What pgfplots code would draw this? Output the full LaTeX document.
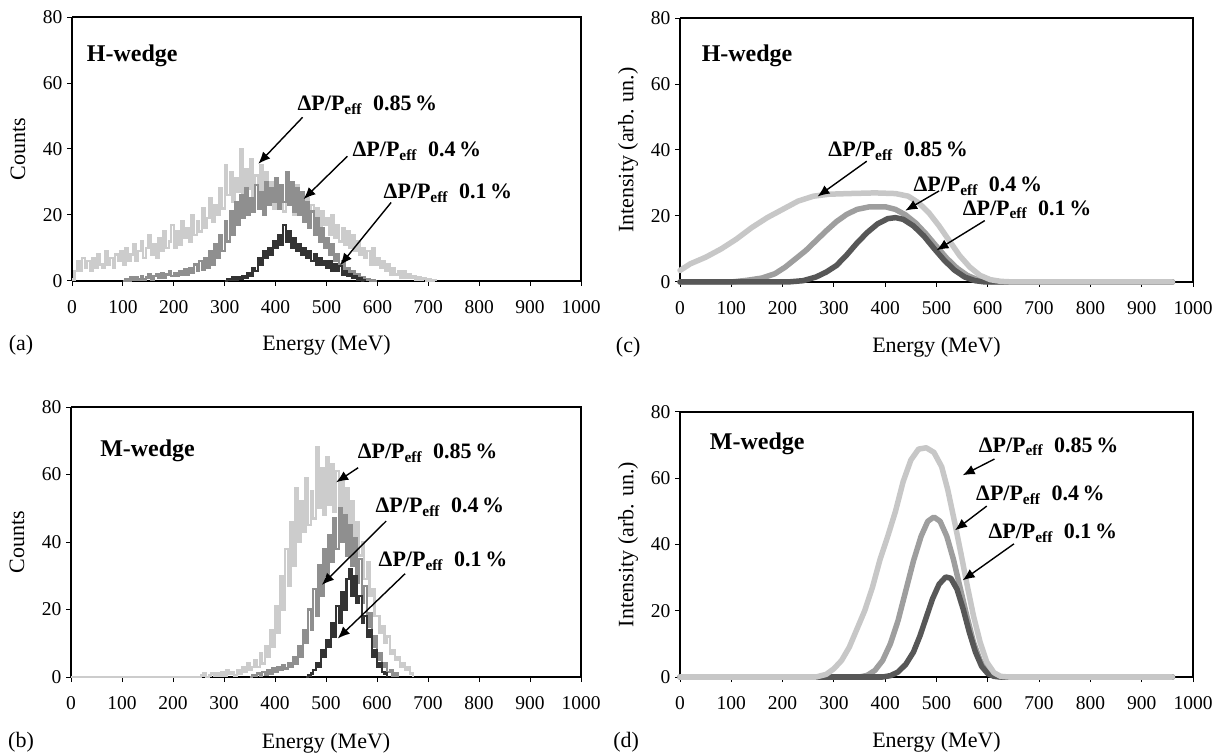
\documentclass[border=0pt]{standalone}
\usepackage{fontspec}
\setmainfont{Liberation Serif}
\usepackage{pgfplots}
\pgfplotsset{compat=1.18}
\usetikzlibrary{arrows.meta}
\definecolor{hgl}{gray}{0.80}
\definecolor{hgm}{gray}{0.56}
\definecolor{hgd}{gray}{0.20}
\definecolor{cgl}{gray}{0.78}
\definecolor{cgm}{gray}{0.62}
\definecolor{cgd}{gray}{0.34}
\newcommand{\dpp}[1]{ΔP/P\textsubscript{eff}\enspace #1\,\%}
\pgfplotsset{panel/.style={
  scale only axis, xmin=0, xmax=1000, ymin=0, ymax=80,
  xtick={0,100,...,1000}, ytick={0,20,...,80},
  scaled ticks=false,
  /pgf/number format/1000 sep={},
  /pgf/number format/assume math mode=true,
  axis x line*=bottom, axis y line*=left,
  axis line style={line width=2bp, black},
  tick align=outside, major tick length=5bp,
  tick style={black, line width=1bp},
  tick label style={font=\fontsize{19.5bp}{23bp}\selectfont},
  xticklabel style={yshift=-11bp},
  yticklabel style={xshift=-1bp},
  label style={font=\fontsize{22bp}{26bp}\selectfont},
  clip=false,
},
hist/.style={const plot, line width=2.4bp, line join=miter},
curve/.style={line width=5.5bp, line cap=round, line join=round},
}
\tikzset{
ann/.style={font=\fontsize{22bp}{26bp}\selectfont\bfseries, inner sep=0pt, anchor=base west},
ttl/.style={font=\fontsize{24bp}{28bp}\selectfont\bfseries, inner sep=0pt, anchor=west},
arr/.style={line width=1.4bp, -{Latex[length=12bp,width=10bp]}},
plab/.style={font=\fontsize{22bp}{26bp}\selectfont, inner sep=0pt, anchor=center},
}
\begin{document}
\begin{tikzpicture}
\useasboundingbox (0,0) rectangle (1222bp,756bp);
% ---------------- (a)
\begin{axis}[panel, at={(72bp,475bp)}, anchor=south west, width=509bp, height=264bp,
  xlabel={Energy (MeV)}, ylabel={Counts},
  xlabel style={at={(axis description cs:0.5,-0.245)}, anchor=center},
  ylabel style={at={(axis description cs:-0.106,0.5)}, anchor=center}]
\draw[line width=1.2bp] (rel axis cs:0,1) -- (rel axis cs:1,1) -- (rel axis cs:1,0);
\addplot[hist, hgl] coordinates {
(0,0.5)(5,3)(10,6)(15,3)(20,7)(25,4)(30,6)(35,3)(40,7)(45,4)(50,8)(55,5)(60,4)(65,9)(70,5)(75,7)(80,4)(85,8)(90,6)(95,9)
(100,5)(105,10)(110,6)(115,8)(120,11)(125,6)(130,9)(135,12)(140,7)(145,10)(150,14)(155,8)(160,11)(165,7)(170,13)(175,9)(180,15)(185,10)(190,12)(195,17)
(200,10)(205,15)(210,11)(215,18)(220,13)(225,16)(230,12)(235,20)(240,14)(245,18)(250,15)(255,22)(260,16)(265,19)(270,25)(275,18)(280,23)(285,20)(290,28)(295,22)
(300,35)(305,26)(310,33)(315,24)(320,31)(325,27)(330,40)(335,26)(340,34)(345,28)(350,37)(355,25)(360,32)(365,27)(370,35)(375,24)(380,33)(385,28)(390,30)(395,22)
(400,31)(405,24)(410,28)(415,21)(420,30)(425,23)(430,27)(435,20)(440,29)(445,22)(450,26)(455,19)(460,25)(465,20)(470,23)(475,18)(480,22)(485,16)(490,21)(495,17)
(500,19)(505,14)(510,20)(515,13)(520,17)(525,12)(530,16)(535,11)(540,15)(545,10)(550,14)(555,9)(560,12)(565,8)(570,10)(575,7)(580,9)(585,5)(590,10)(595,5)
(600,7)(605,4)(610,6)(615,3)(620,5)(625,2)(630,4)(635,2)(640,3)(645,1)(650,3)(655,1)(660,2)(665,1)(670,1.5)(675,0.5)(680,1)(685,0.3)(690,0.8)(695,0.2)
(700,0.5)(705,0.2)(710,0.3)(715,0)};
\addplot[hist, hgm] coordinates {
(100,0)(105,0.5)(110,0)(115,1)(120,0.5)(125,1)(130,0.5)(135,1.5)(140,0.5)(145,1)(150,2)(155,0.5)(160,1.5)(165,2)(170,1)(175,2.5)(180,1)(185,2)(190,3)(195,1.5)
(200,2.5)(205,1.5)(210,3)(215,2)(220,3.5)(225,2)(230,4)(235,2.5)(240,5)(245,3)(250,6)(255,3.5)(260,7)(265,4)(270,9)(275,5)(280,11)(285,7)(290,14)(295,9)
(300,18)(305,12)(310,21)(315,14)(320,24)(325,17)(330,26)(335,19)(340,28)(345,20)(350,25)(355,21)(360,29)(365,22)(370,27)(375,20)(380,30)(385,23)(390,28)(395,24)
(400,31)(405,22)(410,29)(415,24)(420,33)(425,23)(430,30)(435,21)(440,28)(445,20)(450,27)(455,18)(460,24)(465,16)(470,21)(475,14)(480,19)(485,12)(490,16)(495,10)
(500,13)(505,8)(510,11)(515,6)(520,8)(525,5)(530,6)(535,3)(540,4)(545,2)(550,3)(555,1)(560,2)(565,0.5)(570,1)(575,0.3)(580,0.5)(585,0)(590,0.3)(595,0)(600,0)};
\addplot[hist, hgd] coordinates {
(300,0)(305,0.5)(310,0.3)(315,1)(320,0.5)(325,1)(330,0.8)(335,1.5)(340,1)(345,2.5)(350,1.5)(355,4)(360,3)(365,7)(370,5)(375,9)(380,7)(385,10)(390,8)(395,12)
(400,10)(405,14)(410,11)(415,17)(420,12)(425,15)(430,10)(435,13)(440,9)(445,11)(450,8)(455,10)(460,7)(465,9)(470,6)(475,8)(480,5)(485,7)(490,5)(495,6)
(500,4)(505,6)(510,3)(515,5)(520,3)(525,4.5)(530,2)(535,3)(540,1.5)(545,2)(550,1)(555,1.5)(560,0.5)(565,0.8)(570,0.2)(575,0)};
\node[ttl] at (axis cs:29,68.2) {H-wedge};
\node[ann] at (axis cs:443,51.6) {\dpp{0.85}};
\draw[arr] (axis cs:453,49.6) -- (axis cs:366,35.5);
\node[ann] at (axis cs:551,37.6) {\dpp{0.4}};
\draw[arr] (axis cs:541,37.8) -- (axis cs:455,24.8);
\node[ann] at (axis cs:612,25.0) {\dpp{0.1}};
\draw[arr] (axis cs:627,23.8) -- (axis cs:527,4.8);
\node[plab] at (axis description cs:-0.100,-0.245) {(a)};
\end{axis}
% ---------------- (b)
\begin{axis}[panel, at={(71bp,79bp)}, anchor=south west, width=510bp, height=270bp,
  xlabel={Energy (MeV)}, ylabel={Counts},
  xlabel style={at={(axis description cs:0.5,-0.245)}, anchor=center},
  ylabel style={at={(axis description cs:-0.106,0.5)}, anchor=center}]
\draw[line width=1.2bp] (rel axis cs:0,1) -- (rel axis cs:1,1) -- (rel axis cs:1,0);
\addplot[hist, hgl] coordinates {
(0,0)(250,0)(255,0.5)(260,1)(265,0)(270,0.5)(275,1)(280,0.3)(285,1)(290,0.5)(295,1.5)
(300,0.5)(305,2)(310,1)(315,1.5)(320,0.5)(325,2)(330,1)(335,3)(340,1.5)(345,4)(350,2)(355,3)(360,5)(365,3)(370,7)(375,4)(380,9)(385,6)(390,14)(395,9)
(400,21)(405,13)(410,30)(415,20)(420,38)(425,27)(430,46)(435,33)(440,56)(445,40)(450,52)(455,43)(460,59)(465,45)(470,55)(475,47)(480,68)(485,50)(490,62)(495,48)
(500,65)(505,51)(510,63)(515,49)(520,61)(525,46)(530,58)(535,44)(540,56)(545,42)(550,52)(555,40)(560,46)(565,36)(570,40)(575,29)(580,34)(585,24)(590,26)(595,18)
(600,18)(605,13)(610,15)(615,10)(620,12)(625,7)(630,8)(635,5)(640,6)(645,3)(650,4)(655,2)(660,3)(665,1)(670,0)};
\addplot[hist, hgm] coordinates {
(350,0)(355,0.5)(360,0.3)(365,1)(370,0.5)(375,1.5)(380,0.8)(385,2)(390,1)(395,2.5)
(400,1.5)(405,3)(410,2)(415,3.5)(420,2.5)(425,4)(430,3)(435,6)(440,4)(445,9)(450,6)(455,14)(460,10)(465,20)(470,14)(475,26)(480,18)(485,33)(490,24)(495,38)
(500,30)(505,42)(510,34)(515,47)(520,38)(525,50)(530,40)(535,48)(540,36)(545,45)(550,33)(555,41)(560,28)(565,35)(570,22)(575,27)(580,15)(585,19)(590,9)(595,12)
(600,5)(605,7)(610,3)(615,4)(620,1.5)(625,2)(630,0.5)(635,1)(640,0)};
\addplot[hist, hgd] coordinates {
(460,0)(465,0.5)(470,1)(475,2)(480,4)(485,3)(490,8)(495,6)
(500,11)(505,9)(510,16)(515,12)(520,21)(525,16)(530,25)(535,20)(540,29)(545,32)(550,24)(555,30)(560,22)(565,24)(570,16)(575,18)(580,12)(585,14)(590,6)(595,8)
(600,3)(605,4)(610,1.5)(615,1)(620,0)};
\node[ttl] at (axis cs:57,67.1) {M-wedge};
\node[ann] at (axis cs:562,64.6) {\dpp{0.85}};
\draw[arr] (axis cs:563,62.0) -- (axis cs:520,57.7);
\node[ann] at (axis cs:597,48.7) {\dpp{0.4}};
\draw[arr] (axis cs:618,46.2) -- (axis cs:492,27.3);
\node[ann] at (axis cs:603,32.8) {\dpp{0.1}};
\draw[arr] (axis cs:655,30.6) -- (axis cs:523,11.4);
\node[plab] at (axis description cs:-0.098,-0.24) {(b)};
\end{axis}
% ---------------- (c)
\begin{axis}[panel, at={(680bp,474bp)}, anchor=south west, width=513bp, height=264bp,
  xlabel={Energy (MeV)}, ylabel={Intensity (arb. un.)},
  xlabel style={at={(axis description cs:0.5,-0.246)}, anchor=center},
  ylabel style={at={(axis description cs:-0.101,0.5)}, anchor=center}]
\draw[line width=1.2bp] (rel axis cs:0,1) -- (rel axis cs:1,1) -- (rel axis cs:1,0);
\addplot[curve, cgm] coordinates {
(0,0)(100,0)(130,0.5)(160,1.2)(185,2.5)(205,4.5)(225,7)(245,9.5)(265,12.5)(285,15.5)(305,18.3)(325,20.5)(345,22)(370,22.8)(400,22.8)(420,22)(440,20.3)(460,17.8)(480,14.5)(500,10.8)(520,7.2)(540,4.2)(560,2)(580,0.7)(600,0.1)(620,0)(960,0)};
\addplot[curve, cgd] coordinates {
(0,0)(210,0)(240,0.4)(265,1.5)(285,3)(305,5)(325,8.2)(345,11.8)(365,15)(385,17.6)(405,19.2)(420,19.5)(435,19)(455,17)(475,14)(495,10.2)(515,6.6)(535,3.6)(555,1.5)(575,0.4)(595,0)(960,0)};
\addplot[curve, cgl] coordinates {
(0,3.5)(20,5.5)(50,7.5)(80,10)(110,13)(140,16.5)(170,19.5)(200,22)(230,24.5)(260,26)(290,26.6)(330,26.8)(380,27)(420,26.8)(445,26)(465,24)(485,21)(505,17)(525,12.5)(545,8)(565,4.5)(585,2)(605,0.7)(625,0.2)(650,0)(960,0)};
\node[ttl] at (axis cs:42,68.4) {H-wedge};
\node[ann] at (axis cs:289,37.9) {\dpp{0.85}};
\draw[arr] (axis cs:364,36.6) -- (axis cs:268,25.9);
\node[ann] at (axis cs:455,27.4) {\dpp{0.4}};
\draw[arr] (axis cs:505,27.6) -- (axis cs:439,21.6);
\node[ann] at (axis cs:551,20.3) {\dpp{0.1}};
\draw[arr] (axis cs:594,18.6) -- (axis cs:500,9.6);
\node[plab] at (axis description cs:-0.101,-0.246) {(c)};
\end{axis}
% ---------------- (d)
\begin{axis}[panel, at={(680bp,79bp)}, anchor=south west, width=513bp, height=265bp,
  xlabel={Energy (MeV)}, ylabel={Intensity (arb. un.)},
  xlabel style={at={(axis description cs:0.5,-0.245)}, anchor=center},
  ylabel style={at={(axis description cs:-0.101,0.5)}, anchor=center}]
\draw[line width=1.2bp] (rel axis cs:0,1) -- (rel axis cs:1,1) -- (rel axis cs:1,0);
\addplot[curve, cgm] coordinates {
(0,0)(350,0)(365,0.5)(380,2)(395,5)(410,10)(425,17)(440,26)(455,35)(470,42.5)(483,47)(495,48.3)(507,47)(520,42.5)(533,35.5)(546,27)(559,18.5)(572,10.5)(585,5)(598,1.8)(612,0.3)(625,0)(960,0)};
\addplot[curve, cgd] coordinates {
(0,0)(395,0)(410,0.4)(425,1.5)(440,3.8)(455,7.5)(468,12.5)(480,18)(492,23.5)(505,28)(518,30.2)(528,29.8)(540,26.5)(552,20.5)(564,13.5)(576,7.5)(588,3.2)(600,1)(612,0.2)(625,0)(960,0)};
\addplot[curve, cgl] coordinates {
(0,0)(265,0)(285,0.8)(300,2.5)(315,5)(330,9)(345,14.5)(360,20)(375,27)(390,35.5)(405,42.5)(420,50)(435,59)(450,65.5)(465,68.8)(480,69.2)(495,67.8)(510,63.5)(522,56.5)(535,47)(548,37)(560,27.5)(572,18.5)(585,10.5)(598,4.5)(612,1.3)(625,0.2)(640,0)(960,0)};
\node[ttl] at (axis cs:58,70.4) {M-wedge};
\node[ann] at (axis cs:582,67.9) {\dpp{0.85}};
\draw[arr] (axis cs:613,65.8) -- (axis cs:551,60.9);
\node[ann] at (axis cs:577,53.3) {\dpp{0.4}};
\draw[arr] (axis cs:598,51.6) -- (axis cs:536,44.3);
\node[ann] at (axis cs:601,41.8) {\dpp{0.1}};
\draw[arr] (axis cs:651,40.2) -- (axis cs:551,29.2);
\node[plab] at (axis description cs:-0.105,-0.245) {(d)};
\end{axis}
\end{tikzpicture}
\end{document}
